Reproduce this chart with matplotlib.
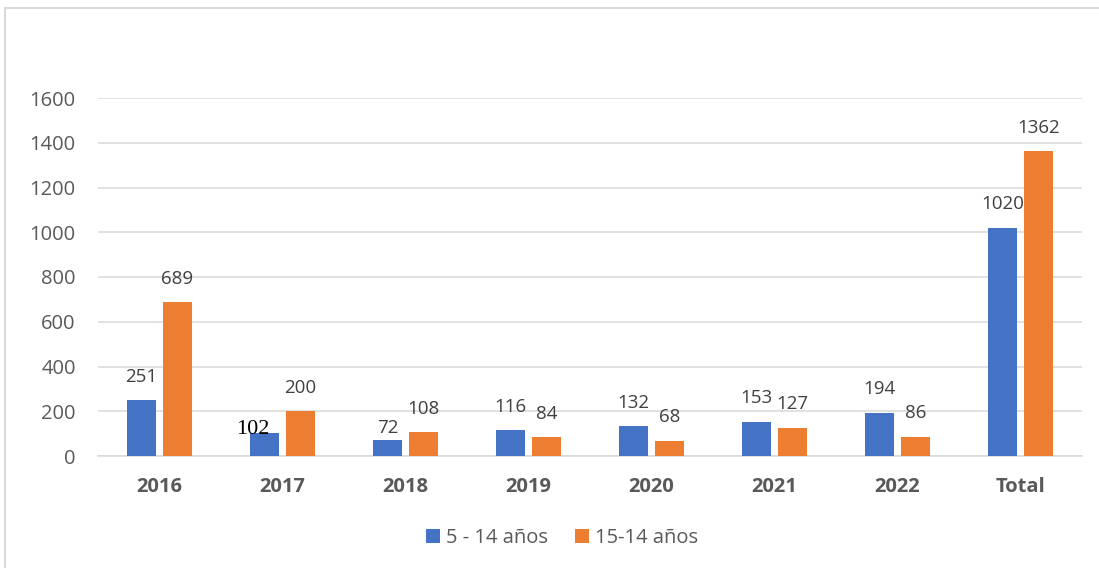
import matplotlib.pyplot as plt
from matplotlib.patches import Rectangle
import numpy as np

years = ["2016", "2017", "2018", "2019", "2020", "2021", "2022", "Total"]
ninos = [251, 102, 72, 116, 132, 153, 194, 1020]
jovenes = [689, 200, 108, 84, 68, 127, 86, 1362]
series_names = ["5 - 14 años", "15-14 años"]

BLUE = "#4472C4"
ORANGE = "#ED7D31"
GRID = "#d9d9d9"
TXT = "#595959"
LBL = "#404040"

plt.rcParams["font.family"] = ["Open Sans", "DejaVu Sans"]

fig = plt.figure(figsize=(10.99, 5.68), dpi=100)
ax = fig.add_axes([98 / 1099, 1 - 456 / 568, 984 / 1099, 358 / 568])

x = np.arange(len(years))
w = 0.23
off = 0.146
b1 = ax.bar(x - off, ninos, w, color=BLUE, label=series_names[0], zorder=3)
b2 = ax.bar(x + off, jovenes, w, color=ORANGE, label=series_names[1], zorder=3)

ax.set_xlim(-0.5, len(years) - 0.5)
ax.set_ylim(0, 1600)
ax.set_yticks(range(0, 1601, 200))
ax.grid(axis="y", color=GRID, linewidth=1.1, zorder=0)
for s in ["top", "right", "left"]:
    ax.spines[s].set_visible(False)
ax.spines["bottom"].set_color(GRID)
ax.spines["bottom"].set_linewidth(1.1)
ax.tick_params(axis="y", length=0, pad=16, labelsize=14.5, labelcolor=TXT)
ax.tick_params(axis="x", length=0, pad=15, labelsize=14.5, labelcolor=TXT)
ax.set_xticks(x)
ax.set_xticklabels(years, fontweight="bold")

# data labels; a couple of them sit oddly in the original
special = {("a", 1): (-8.6, 2.5), ("a", 2): (0, 8.6)}
for key, bars, vals in [("a", b1, ninos), ("b", b2, jovenes)]:
    for i, (bar, v) in enumerate(zip(bars, vals)):
        dx, dy = special.get((key, i), (0, 16.8))
        cx = bar.get_x() + bar.get_width() / 2
        if (key, i) == ("a", 1):
            ax.annotate(str(v), (cx, v), xytext=(dx, dy), textcoords="offset points",
                        ha="center", va="center", fontsize=16, color="black",
                        family="Liberation Serif", zorder=5, annotation_clip=False)
        else:
            ax.annotate(str(v), (cx, v), xytext=(dx, dy), textcoords="offset points",
                        ha="center", va="center", fontsize=13.5, color=LBL,
                        zorder=5, annotation_clip=False)

fig.legend(loc="center", bbox_to_anchor=(562 / 1099, 1 - 538 / 568), ncol=2,
           frameon=False, fontsize=14.5, labelcolor=TXT, handlelength=0.7,
           handleheight=0.7, handletextpad=0.3, columnspacing=1.3)

fig.patches.append(Rectangle((5 / 1099, -0.1), 1.2, 0.1 + 1 - 8 / 568,
                             transform=fig.transFigure, fill=False,
                             edgecolor=GRID, linewidth=1.5))

plt.savefig("out.png", dpi=100)
plt.close()
